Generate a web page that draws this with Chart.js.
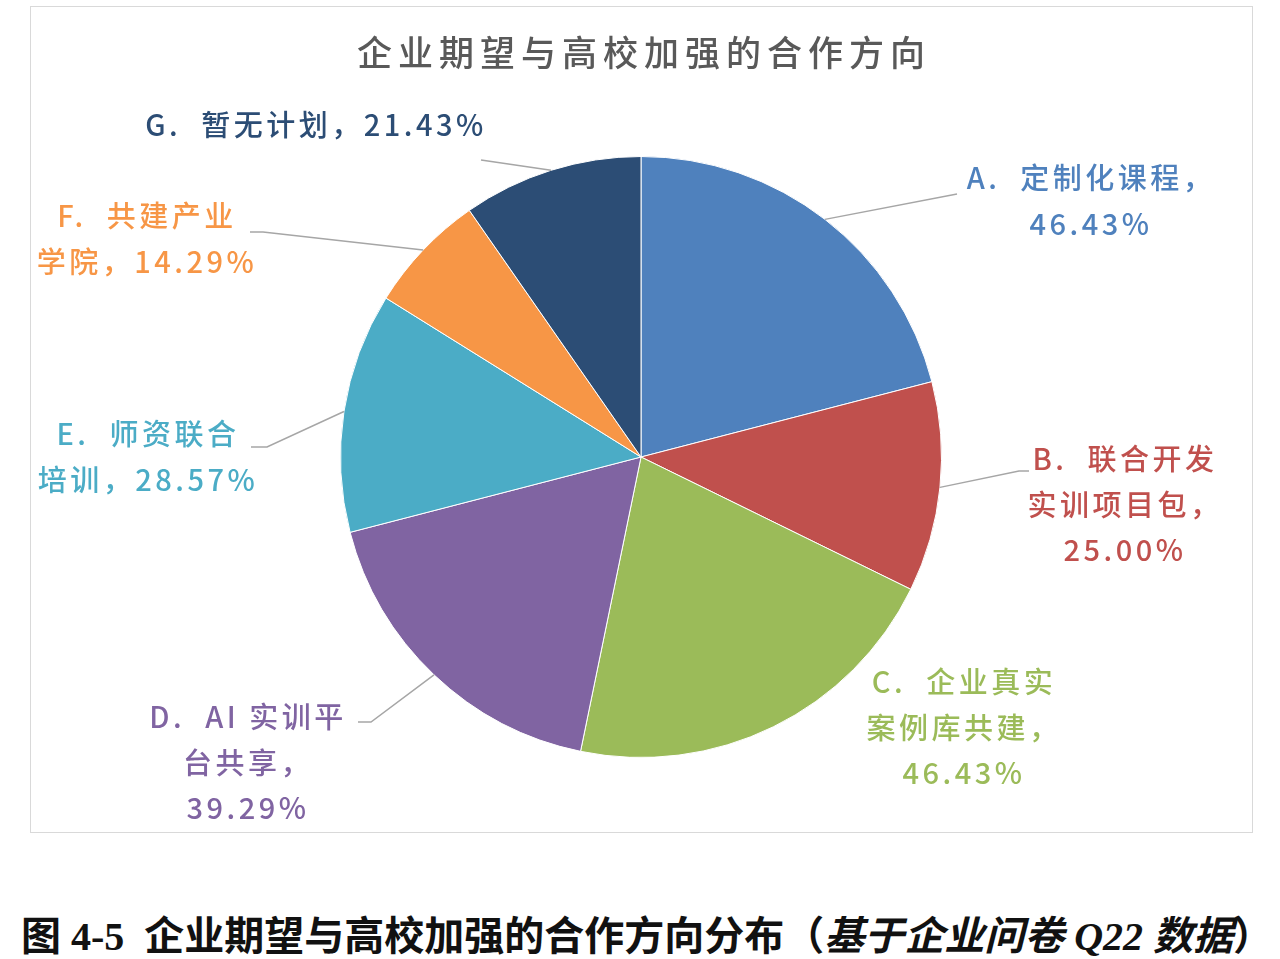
<!DOCTYPE html>
<html>
<head>
<meta charset="utf-8">
<script src="https://cdn.jsdelivr.net/npm/chart.js@4/dist/chart.umd.min.js"></script>
<style>
  body { margin: 0; background: #fff; width: 1280px; height: 959px; position: relative; overflow: hidden; }
  #frame { position: absolute; left: 30px; top: 6px; width: 1221px; height: 825px; border: 1px solid #d9d9d9; }
  #caption {
    position: absolute; left: 7px; width: 1280px; top: 904px; text-align: center;
    font-family: "Liberation Serif", "Noto Sans CJK SC", serif; font-weight: bold; font-size: 40px;
    color: #111; white-space: nowrap;
  }
  #caption i { font-style: italic; }
</style>
</head>
<body>
<div id="frame"><canvas id="pieChart" width="1221" height="825"></canvas></div>
<div id="caption">图 4-5&nbsp; 企业期望与高校加强的合作方向分布（<i>基于企业问卷 Q22 数据</i>）</div>
<script>
const chartTitle = "企业期望与高校加强的合作方向";
const categories = [
  "A.  定制化课程",
  "B.  联合开发\n实训项目包",
  "C.  企业真实\n案例库共建",
  "D.  AI 实训平\n台共享",
  "E.  师资联合\n培训",
  "F.  共建产业\n学院",
  "G.  暂无计划"
];
const values = [46.43, 25.00, 46.43, 39.29, 28.57, 14.29, 21.43];
const sliceColors = ["#4F81BD", "#C0504D", "#9BBB59", "#8064A2", "#4BACC6", "#F79646", "#2C4D75"];
const textColors = ["#4F81BD", "#C0504D", "#9BBB59", "#8064A2", "#4BACC6", "#F79646", "#2C4D75"];

// label layout: center of first line, whether value goes on its own line, leader points
const labelLayout = [
  { x: 1060, y: 171, valueBreak: true,  leader: [[926, 187]] },
  { x: 1094, y: 452, valueBreak: true,  leader: [[998, 464], [988, 464]] },
  { x: 933,  y: 675, valueBreak: true,  leader: null },
  { x: 217,  y: 710, valueBreak: true,  leader: [[327, 715], [340, 715]] },
  { x: 117,  y: 427, valueBreak: false, leader: [[220, 440], [236, 440]] },
  { x: 116,  y: 209, valueBreak: false, leader: [[219, 225], [232, 225]] },
  { x: 285,  y: 118, valueBreak: false, leader: [[450, 153]] }
];
const lineHeight = 45.5;

const labelPlugin = {
  id: "pieLabels",
  afterDraw(chart) {
    const ctx = chart.ctx;
    ctx.save();
    // title
    ctx.font = "500 35px 'Noto Sans CJK SC'";
    ctx.letterSpacing = "6px";
    ctx.fillStyle = "#595959";
    ctx.textAlign = "center";
    ctx.textBaseline = "middle";
    ctx.fillText(chartTitle, 613, 46);

    const arcs = chart.getDatasetMeta(0).data;
    arcs.forEach((arc, i) => {
      const lay = labelLayout[i];
      // leader line to slice edge at mid angle
      if (lay.leader) {
        const mid = (arc.startAngle + arc.endAngle) / 2;
        const ex = arc.x + Math.cos(mid) * arc.outerRadius;
        const ey = arc.y + Math.sin(mid) * arc.outerRadius;
        ctx.strokeStyle = "#a6a6a6";
        ctx.lineWidth = 1.5;
        ctx.beginPath();
        ctx.moveTo(lay.leader[0][0], lay.leader[0][1]);
        lay.leader.slice(1).forEach((p) => ctx.lineTo(p[0], p[1]));
        ctx.lineTo(ex, ey);
        ctx.stroke();
      }
      const pct = values[i].toFixed(2) + "%";
      let lines = categories[i].split("\n");
      if (lay.valueBreak) {
        lines[lines.length - 1] += "，";
        lines.push(pct);
      } else {
        lines[lines.length - 1] += "，" + pct;
      }
      ctx.font = "500 29px 'Noto Sans CJK SC'";
      ctx.letterSpacing = "3.5px";
      ctx.fillStyle = textColors[i];
      lines.forEach((t, k) => ctx.fillText(t, lay.x, lay.y + k * lineHeight));
    });
    ctx.restore();
  }
};

new Chart(document.getElementById("pieChart"), {
  type: "pie",
  data: {
    labels: categories,
    datasets: [{
      data: values,
      backgroundColor: sliceColors,
      borderColor: "#ffffff",
      borderWidth: 1
    }]
  },
  options: {
    responsive: false,
    animation: false,
    layout: { padding: { left: 309, right: 310, top: 149, bottom: 74 } },
    plugins: {
      legend: { display: false },
      tooltip: { enabled: false },
      title: { display: false }
    }
  },
  plugins: [labelPlugin]
});
</script>
</body>
</html>
